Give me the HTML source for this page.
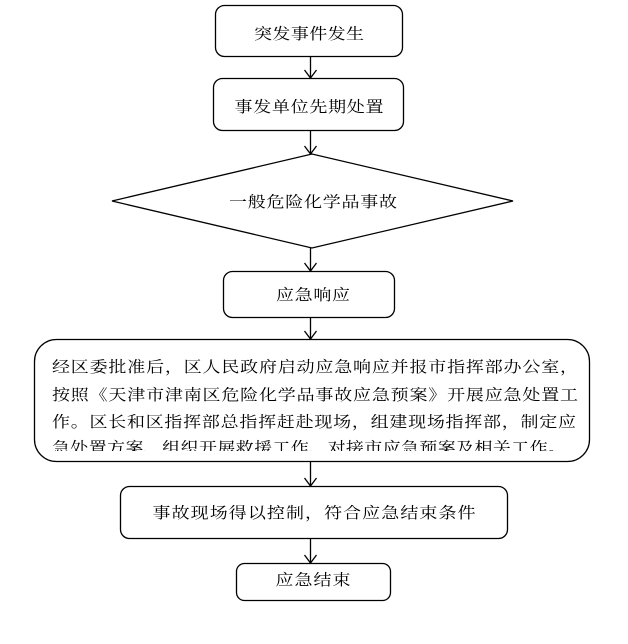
<!DOCTYPE html>
<html><head><meta charset="utf-8"><style>
html,body{margin:0;padding:0;background:#fff;width:628px;height:644px;overflow:hidden}
text{font-family:"Liberation Serif","Noto Serif CJK SC",serif;font-size:18px;fill:#000}
</style></head><body>
<svg width="628" height="644" viewBox="0 0 628 644" xmlns="http://www.w3.org/2000/svg">
<defs><clipPath id="c4"><rect x="34" y="339" width="556" height="112"/></clipPath></defs>
<g fill="none" stroke="#000" stroke-width="1.3">
<rect x="215.5" y="5.5" width="187" height="51" rx="9"/>
<rect x="213.5" y="78.5" width="190" height="52" rx="9"/>
<polygon points="112,201 312,154 513,201 312,248"/>
<rect x="223.5" y="271.5" width="171" height="46" rx="9"/>
<rect x="34.5" y="339.5" width="555" height="122" rx="22"/>
<rect x="120.5" y="486.5" width="387" height="52" rx="9"/>
<rect x="236.5" y="563.5" width="154" height="37" rx="8"/>
<path d="M310.5 57V78M304.5 70l6 8 6-8"/>
<path d="M310.5 131V154M304.5 146l6 8 6-8"/>
<path d="M310.5 248V271M304.5 263l6 8 6-8"/>
<path d="M310.5 318V339M304.5 331l6 8 6-8"/>
<path d="M310.5 462V486M304.5 478l6 8 6-8"/>
<path d="M310.5 539V563M304.5 555l6 8 6-8"/>
</g>
<g text-anchor="middle">
<text transform="translate(309,34) scale(1,0.85)" dominant-baseline="central" textLength="110">突发事件发生</text>
<text transform="translate(309,107) scale(1,0.85)" dominant-baseline="central" textLength="149">事发单位先期处置</text>
<text transform="translate(313,202) scale(1,0.85)" dominant-baseline="central" textLength="168">一般危险化学品事故</text>
<text transform="translate(313,295) scale(1,0.85)" dominant-baseline="central" textLength="74">应急响应</text>
<text transform="translate(314,513) scale(1,0.85)" dominant-baseline="central" textLength="323">事故现场得以控制，符合应急结束条件</text>
<text transform="translate(313,580) scale(1,0.85)" dominant-baseline="central" textLength="75">应急结束</text>
</g>
<g clip-path="url(#c4)">
<text transform="translate(52,367) scale(1,0.85)" dominant-baseline="central" textLength="526" lengthAdjust="spacing">经区委批准后，区人民政府启动应急响应并报市指挥部办公室，</text>
<text transform="translate(52,395) scale(1,0.85)" dominant-baseline="central" textLength="526" lengthAdjust="spacing">按照《天津市津南区危险化学品事故应急预案》开展应急处置工</text>
<text transform="translate(52,422) scale(1,0.85)" dominant-baseline="central" textLength="524" lengthAdjust="spacing">作。区长和区指挥部总指挥赶赴现场，组建现场指挥部，制定应</text>
<text transform="translate(52,448) scale(1,0.85)" dominant-baseline="central" textLength="514" lengthAdjust="spacing">急处置方案、组织开展救援工作、对接市应急预案及相关工作。</text>
</g>
</svg>
</body></html>
